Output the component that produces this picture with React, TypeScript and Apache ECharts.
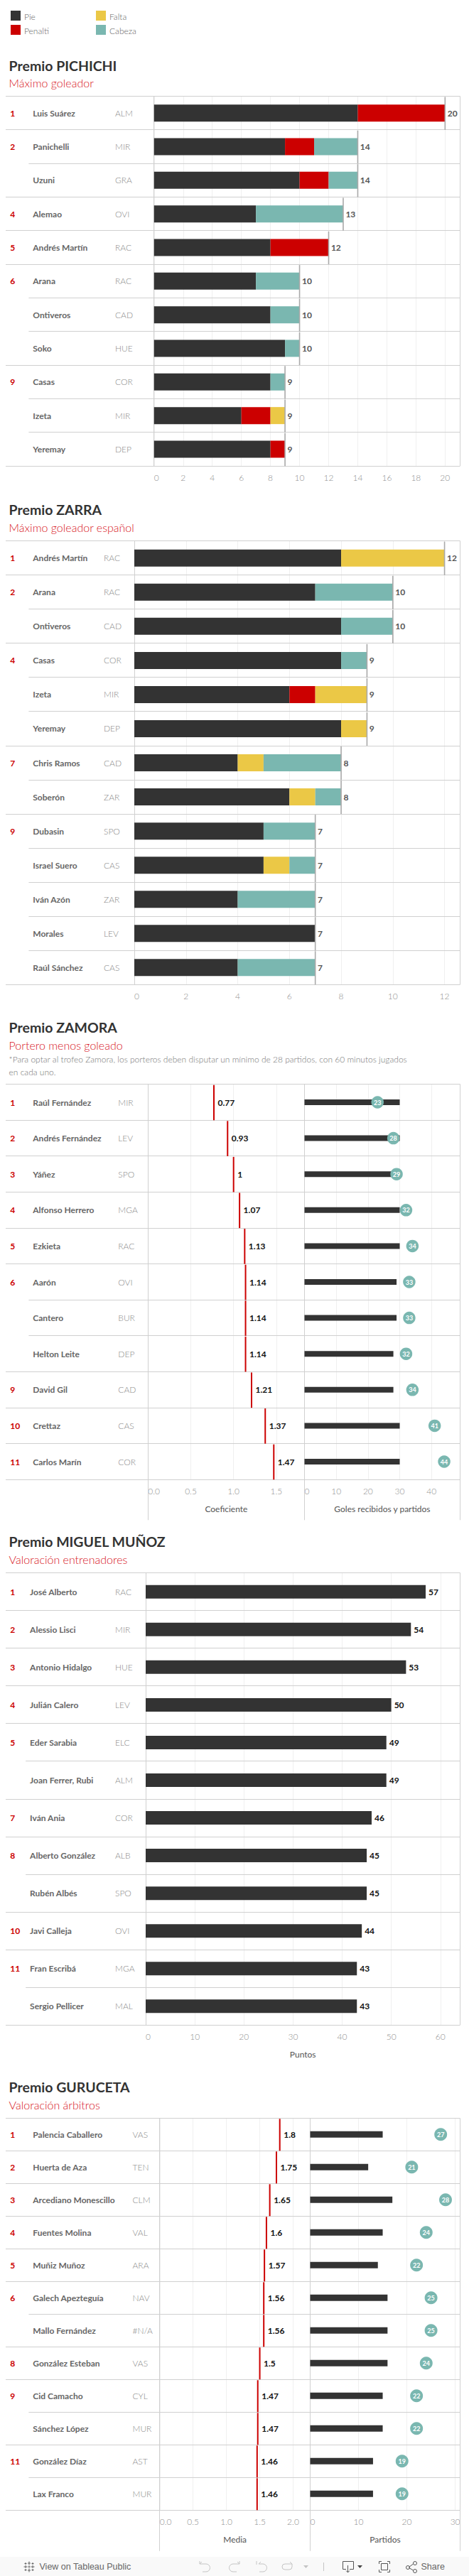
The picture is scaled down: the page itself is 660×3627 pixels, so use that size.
import React, { useEffect, useRef } from "react";
import * as echarts from "echarts";

// ---------- Data ----------
const legendNames = ["Pie", "Penalti", "Falta", "Cabeza"];

const pichichiRanks = ["1", "2", "", "4", "5", "6", "", "", "9", "", ""];
const pichichiNames = ["Luis Suárez", "Panichelli", "Uzuni", "Alemao", "Andrés Martín", "Arana", "Ontiveros", "Soko", "Casas", "Izeta", "Yeremay"];
const pichichiTeams = ["ALM", "MIR", "GRA", "OVI", "RAC", "RAC", "CAD", "HUE", "COR", "MIR", "DEP"];
const pichichiPie = [14, 9, 10, 7, 8, 7, 8, 9, 8, 6, 8];
const pichichiPenalti = [6, 2, 2, 0, 4, 0, 0, 0, 0, 2, 1];
const pichichiFalta = [0, 0, 0, 0, 0, 0, 0, 0, 0, 1, 0];
const pichichiCabeza = [0, 3, 2, 6, 0, 3, 2, 1, 1, 0, 0];
const pichichiTotals = [20, 14, 14, 13, 12, 10, 10, 10, 9, 9, 9];

const zarraRanks = ["1", "2", "", "4", "", "", "7", "", "9", "", "", "", ""];
const zarraNames = ["Andrés Martín", "Arana", "Ontiveros", "Casas", "Izeta", "Yeremay", "Chris Ramos", "Soberón", "Dubasin", "Israel Suero", "Iván Azón", "Morales", "Raúl Sánchez"];
const zarraTeams = ["RAC", "RAC", "CAD", "COR", "MIR", "DEP", "CAD", "ZAR", "SPO", "CAS", "ZAR", "LEV", "CAS"];
const zarraPie = [8, 7, 8, 8, 6, 8, 4, 6, 5, 5, 4, 7, 4];
const zarraPenalti = [0, 0, 0, 0, 1, 0, 0, 0, 0, 0, 0, 0, 0];
const zarraFalta = [4, 0, 0, 0, 2, 1, 1, 1, 0, 1, 0, 0, 0];
const zarraCabeza = [0, 3, 2, 1, 0, 0, 3, 1, 2, 1, 3, 0, 3];
const zarraTotals = [12, 10, 10, 9, 9, 9, 8, 8, 7, 7, 7, 7, 7];

const zamoraRanks = ["1", "2", "3", "4", "5", "6", "", "", "9", "10", "11"];
const zamoraNames = ["Raúl Fernández", "Andrés Fernández", "Yáñez", "Alfonso Herrero", "Ezkieta", "Aarón", "Cantero", "Helton Leite", "David Gil", "Crettaz", "Carlos Marín"];
const zamoraTeams = ["MIR", "LEV", "SPO", "MGA", "RAC", "OVI", "BUR", "DEP", "CAD", "CAS", "COR"];
const zamoraCoef = [0.77, 0.93, 1, 1.07, 1.13, 1.14, 1.14, 1.14, 1.21, 1.37, 1.47];
const zamoraPartidos = [30, 30, 29, 30, 30, 29, 29, 28, 28, 30, 30];
const zamoraGoles = [23, 28, 29, 32, 34, 33, 33, 32, 34, 41, 44];

const munozRanks = ["1", "2", "3", "4", "5", "", "7", "8", "", "10", "11", ""];
const munozNames = ["José Alberto", "Alessio Lisci", "Antonio Hidalgo", "Julián Calero", "Eder Sarabia", "Joan Ferrer, Rubi", "Iván Ania", "Alberto González", "Rubén Albés", "Javi Calleja", "Fran Escribá", "Sergio Pellicer"];
const munozTeams = ["RAC", "MIR", "HUE", "LEV", "ELC", "ALM", "COR", "ALB", "SPO", "OVI", "MGA", "MAL"];
const munozPuntos = [57, 54, 53, 50, 49, 49, 46, 45, 45, 44, 43, 43];

const gurucetaRanks = ["1", "2", "3", "4", "5", "6", "", "8", "9", "", "11", ""];
const gurucetaNames = ["Palencia Caballero", "Huerta de Aza", "Arcediano Monescillo", "Fuentes Molina", "Muñiz Muñoz", "Galech Apezteguía", "Mallo Fernández", "González Esteban", "Cid Camacho", "Sánchez López", "González Díaz", "Lax Franco"];
const gurucetaTeams = ["VAS", "TEN", "CLM", "VAL", "ARA", "NAV", "#N/A", "VAS", "CYL", "MUR", "AST", "MUR"];
const gurucetaMedia = [1.8, 1.75, 1.65, 1.6, 1.57, 1.56, 1.56, 1.5, 1.47, 1.47, 1.46, 1.46];
const gurucetaPartidos = [15, 12, 17, 15, 14, 16, 16, 16, 15, 15, 13, 13];
const gurucetaPuntos = [27, 21, 28, 24, 22, 25, 25, 24, 22, 22, 19, 19];

// ---------- Style ----------
const DARK = "#333333";
const RED = "#cc0000";
const YELLOW = "#ebc846";
const TEAL = "#7ab7b0";
const RULE = "#d0d0d0";
const GRIDC = "#f0f0f0";
const FONT = "Lato";
const legendColors = [DARK, RED, YELLOW, TEAL];
const LEFT = 8;
const RIGHT = 647.4;

const ICONS: Record<string, string> = {
  tabLogo: "M8 0.5V5.5M6 3H10M8 10.5V15.5M6 13H10M0.5 8H5.5M3 6V10M10.5 8H15.5M13 6V10M3 2V5M1.5 3.5H4.5M13 2V5M11.5 3.5H14.5M3 11V14M1.5 12.5H4.5M13 11V14M11.5 12.5H14.5M8 6.5V9.5M6.5 8H9.5",
  undoIcon: "M1 0V4H10A5.5 5.5 0 0 1 10 15H5M1 4L4 1",
  redoIcon: "M15 0V4H6A5.5 5.5 0 0 0 6 15H11M15 4L12 1",
  revertIcon: "M1 0V5M4 4H10A5.5 5.5 0 0 1 10 15H5M4 4L7 1",
  refreshIcon: "M15 4H5A4 4 0 0 0 5 12H11A4 4 0 0 0 15 8V4M15 4L12 1",
  downloadIcon: "M5 11.5H0.5V0.5H15.5V11.5H10M7.5 6V16M5 13.5L7.5 16L10 13.5",
  fullIcon: "M3.5 3.5H12.5V12.5H3.5ZM0.5 4V0.5H4M12 0.5H15.5V4M15.5 12V15.5H12M4 15.5H0.5V12",
  shareIcon: "M4.5 8.5L10.5 4M4.5 9.5L10.5 13M5.5 9A2.5 2.5 0 1 1 0.5 9A2.5 2.5 0 1 1 5.5 9ZM15.5 3A2.5 2.5 0 1 1 10.5 3A2.5 2.5 0 1 1 15.5 3ZM15.5 14A2.5 2.5 0 1 1 10.5 14A2.5 2.5 0 1 1 15.5 14Z",
  triIcon: "M0 0H7L3.5 4Z",
};
Object.keys(ICONS).forEach((k) => {
  echarts.graphic.registerShape(k, echarts.graphic.extendPath(ICONS[k], {}));
});

function txt(text: string, x: number, y: number, fontSize: number, fill: string, fontWeight: any = "normal", fontFamily = FONT, align = "left"): any {
  return { type: "text", x, y, z: 3, silent: true, style: { text, fontSize, fill, fontWeight, fontFamily, align, verticalAlign: "middle" } };
}
function line(x1: number, y1: number, x2: number, y2: number, stroke = RULE): any {
  return { type: "line", z: 1, silent: true, shape: { x1, y1, x2, y2 }, style: { stroke, lineWidth: 1 } };
}
const px = (v: number) => Math.floor(v) + 0.5;

// ---------- Builders ----------
const option: any = {
  animation: false,
  backgroundColor: "#ffffff",
  textStyle: { fontFamily: FONT },
  grid: [],
  xAxis: [],
  yAxis: [],
  series: [],
  graphic: { elements: [] as any[] },
};
const G = option.graphic.elements;

interface Table { top: number; rowH: number; ranks: string[]; names: string[]; teams: string[]; nameX: number; teamX: number; subX: number; }

function rules(t: Table, x0s: number[], tail: number) {
  const n = t.names.length;
  for (let i = 0; i <= n; i++) {
    const y = px(t.top + i * t.rowH);
    const tied = i > 0 && i < n && t.ranks[i] === "";
    G.push(line(tied ? t.subX : LEFT, y, RIGHT, y));
  }
  const yEnd = t.top + n * t.rowH + tail;
  [...x0s, RIGHT].forEach((x) => G.push(line(px(x), px(t.top), px(x), yEnd)));
}

function addGrid(left: number, right: number, t: Table) {
  const g = option.grid.length;
  option.grid.push({ left, top: t.top, width: right - left, height: t.names.length * t.rowH });
  return g;
}

function addX(g: number, max: number, interval: number, dec: number, name?: string, labelMargin = 10, nameGap = 34) {
  const idx = option.xAxis.length;
  option.xAxis.push({
    type: "value", gridIndex: g, position: "bottom", min: 0, max, interval,
    axisLine: { show: false }, axisTick: { show: false },
    splitLine: { show: true, lineStyle: { color: GRIDC, width: 1 } },
    axisLabel: {
      color: "#8f8f8f", fontSize: 12, fontWeight: 300, fontFamily: FONT, margin: labelMargin,
      showMaxLabel: false, alignMinLabel: "left",
      formatter: (v: number) => v.toFixed(dec),
    },
    name, nameLocation: "middle", nameGap,
    nameTextStyle: { color: "#555555", fontSize: 12, fontFamily: FONT },
  });
  return idx;
}

function hiddenY(g: number, data: string[]) {
  option.yAxis.push({
    type: "category", gridIndex: g, position: "left", inverse: true, data,
    axisLine: { show: false }, axisTick: { show: false }, splitLine: { show: false }, axisLabel: { show: false },
  });
  return option.yAxis.length - 1;
}

function labelColumn(g: number, data: string[], margin: number, color: string, fontWeight: any, fontSize: number) {
  option.yAxis.push({
    type: "category", gridIndex: g, position: "left", inverse: true, data,
    axisLine: { show: false }, axisTick: { show: false }, splitLine: { show: false },
    axisLabel: { show: true, interval: 0, align: "left", margin, color, fontWeight, fontSize, fontFamily: FONT },
  });
  return option.yAxis.length - 1;
}

function labelColumns(g: number, x0: number, t: Table) {
  const main = labelColumn(g, t.names, x0 - t.nameX, "#666666", "bold", 12);
  labelColumn(g, t.teams, x0 - t.teamX, "#8a8a8a", 300, 12);
  labelColumn(g, t.ranks, x0 - 14.3, RED, "bold", 12);
  return main;
}

// vertical rule at each value, spanning the row, with a text beside it
function ruleSeries(xi: number, yi: number, values: number[], w: number, color: string, labelGap: number, labelColor: string, fontSize: number) {
  option.series.push({
    type: "custom", xAxisIndex: xi, yAxisIndex: yi, z: 5, clip: false,
    data: values.map((v, i) => [v, i]),
    renderItem: (_p: any, api: any) => {
      const c = api.coord([api.value(0), api.value(1)]);
      const h = api.size([0, 1])[1];
      return {
        type: "group",
        children: [
          { type: "rect", shape: { x: c[0] - w / 2, y: c[1] - h / 2 + 1, width: w, height: h - 1 }, style: { fill: color } },
          { type: "text", x: c[0] + labelGap, y: c[1], style: { text: String(api.value(0)), fill: labelColor, fontSize, fontWeight: "bold", fontFamily: FONT, align: "left", verticalAlign: "middle" } },
        ],
      };
    },
  });
}

function stackedSection(t: Table, x0: number, max: number, interval: number, stacks: number[][], totals: number[], stackId: string) {
  rules(t, [x0], 0);
  const g = addGrid(x0, RIGHT, t);
  const xi = addX(g, max, interval, 0);
  const yi = labelColumns(g, x0, t);
  stacks.forEach((vals, k) => {
    option.series.push({
      type: "bar", name: legendNames[k], stack: stackId, xAxisIndex: xi, yAxisIndex: yi,
      barWidth: 24, data: vals, itemStyle: { color: legendColors[k] },
    });
  });
  ruleSeries(xi, yi, totals, 1.6, "#a9a9a9", 3.4, "#555555", 12);
}

function dualSection(t: Table, x0: number, x1: number, max1: number, int1: number, max2: number, int2: number, title1: string, title2: string, coef: number[], bars: number[], dots: number[], barW: number, dotSize: number, tail: number, gap: number) {
  rules(t, [x0, x1], tail);
  const g1 = addGrid(x0, x1, t);
  const xa = addX(g1, max1, int1, 1, title1, 10, gap);
  const ya = labelColumns(g1, x0, t);
  ruleSeries(xa, ya, coef, 2, RED, 5.5, "#111111", 12);
  const g2 = addGrid(x1, RIGHT, t);
  const xb = addX(g2, max2, int2, 0, title2, 10, gap);
  const yb = hiddenY(g2, t.names);
  option.series.push({
    type: "bar", name: title2, xAxisIndex: xb, yAxisIndex: yb, barWidth: barW, data: bars, itemStyle: { color: DARK },
  });
  option.series.push({
    type: "scatter", name: "Valor", xAxisIndex: xb, yAxisIndex: yb, z: 6, symbolSize: dotSize, clip: false,
    data: dots.map((v, i) => [v, i]), itemStyle: { color: TEAL, opacity: 1 },
    label: { show: true, position: "inside", color: "#ffffff", fontSize: 9, fontWeight: "bold", fontFamily: FONT, formatter: (p: any) => String(p.value[0]) },
  });
}

function titleBlock(title: string, sub: string, yTitle: number, ySub: number) {
  G.push(txt(title, 12.6, yTitle, 19.5, DARK, "bold"));
  G.push(txt(sub, 12.6, ySub, 16, "#d8141e", 300));
}

// Legend
[[15, 15], [15, 35], [135, 15], [135, 35]].forEach(([x, y], i) => {
  G.push({ type: "rect", z: 1, silent: true, shape: { x, y, width: 14, height: 14 }, style: { fill: legendColors[i] } });
  G.push(txt(legendNames[i], x + 19, y + 8, 12, "#666666", 300));
});

// Pichichi
titleBlock("Premio PICHICHI", "Máximo goleador", 92, 116);
stackedSection(
  { top: 135.5, rowH: 47.33, ranks: pichichiRanks, names: pichichiNames, teams: pichichiTeams, nameX: 46.3, teamX: 162, subX: 40.4 },
  216.8, 21.03, 2, [pichichiPie, pichichiPenalti, pichichiFalta, pichichiCabeza], pichichiTotals, "pichichi",
);

// Zarra
titleBlock("Premio ZARRA", "Máximo goleador español", 717, 742);
stackedSection(
  { top: 761.7, rowH: 48.05, ranks: zarraRanks, names: zarraNames, teams: zarraTeams, nameX: 46.3, teamX: 146, subX: 40.4 },
  189, 12.6, 2, [zarraPie, zarraPenalti, zarraFalta, zarraCabeza], zarraTotals, "zarra",
);

// Zamora
titleBlock("Premio ZAMORA", "Portero menos goleado", 1446, 1471);
G.push(txt("*Para optar al trofeo Zamora, los porteros deben disputar un mínimo de 28 partidos, con 60 minutos jugados", 12.6, 1491, 12, "#777777", 300));
G.push(txt("en cada uno.", 12.6, 1509, 12, "#777777", 300));
dualSection(
  { top: 1526.7, rowH: 50.6, ranks: zamoraRanks, names: zamoraNames, teams: zamoraTeams, nameX: 46.3, teamX: 166.3, subX: 40.4 },
  208.3, 428.5, 1.829, 0.5, 49, 10, "Coeficiente", "Goles recibidos y partidos", zamoraCoef, zamoraPartidos, zamoraGoles, 8, 17.5, 57, 35,
);

// Miguel Muñoz
titleBlock("Premio MIGUEL MUÑOZ", "Valoración entrenadores", 2170, 2195);
{
  const t: Table = { top: 2214.7, rowH: 53.05, ranks: munozRanks, names: munozNames, teams: munozTeams, nameX: 42.1, teamX: 162, subX: 36.2 };
  rules(t, [205], 0);
  const g = addGrid(205, RIGHT, t);
  const xi = addX(g, 64, 10, 0, "Puntos", 10, 35);
  const yi = labelColumns(g, 205, t);
  option.series.push({
    type: "bar", name: "Puntos", xAxisIndex: xi, yAxisIndex: yi, barWidth: 19, data: munozPuntos, itemStyle: { color: DARK },
    label: { show: true, position: "right", distance: 4, color: "#111111", fontSize: 12, fontWeight: "bold", fontFamily: FONT },
  });
}

// Guruceta
titleBlock("Premio GURUCETA", "Valoración árbitros", 2938, 2963);
dualSection(
  { top: 2982.3, rowH: 46, ranks: gurucetaRanks, names: gurucetaNames, teams: gurucetaTeams, nameX: 46.3, teamX: 186.5, subX: 40.4 },
  224.8, 436.5, 2.256, 0.5, 31, 10, "Media", "Partidos", gurucetaMedia, gurucetaPartidos, gurucetaPuntos, 9, 18, 57.5, 35,
);

// Footer toolbar
G.push({ type: "rect", z: 1, silent: true, shape: { x: 0, y: 3600, width: 660, height: 27 }, style: { fill: "#f9f9f9" } });
G.push(txt("View on Tableau Public", 55.5, 3614, 12.5, "#666666", "normal", "Liberation Sans"));
G.push(txt("Share", 592.5, 3614, 12.5, "#666666", "normal", "Liberation Sans"));
function icon(type: string, x: number, y: number, stroke: string | null, fill: string | null = null) {
  G.push({ type, x, y, z: 3, silent: true, style: { fill: fill || "none", stroke: stroke || "none", lineWidth: 1 } });
}
icon("tabLogo", 33, 3606, "#666666");
icon("undoIcon", 280, 3606, "#c4c4c4");
icon("redoIcon", 322, 3606, "#c4c4c4");
icon("revertIcon", 360, 3606, "#c4c4c4");
icon("refreshIcon", 396, 3606, "#c4c4c4");
icon("triIcon", 427, 3612, null, "#c4c4c4");
G.push({ ...line(455.5, 3608, 455.5, 3620, "#c4c4c4"), z: 3 });
icon("downloadIcon", 482, 3606, "#555555");
icon("triIcon", 503, 3612, null, "#444444");
icon("fullIcon", 533, 3606, "#555555");
icon("shareIcon", 571, 3606, "#555555");

export default function App() {
  const ref = useRef<HTMLDivElement>(null);
  useEffect(() => {
    document.body.style.margin = "0";
    const chart = echarts.init(ref.current!, undefined, { renderer: "svg", width: 660, height: 3627 });
    chart.setOption(option);
    return () => chart.dispose();
  }, []);
  return <div ref={ref} style={{ position: "absolute", left: 0, top: 0, width: 660, height: 3627 }} />;
}
